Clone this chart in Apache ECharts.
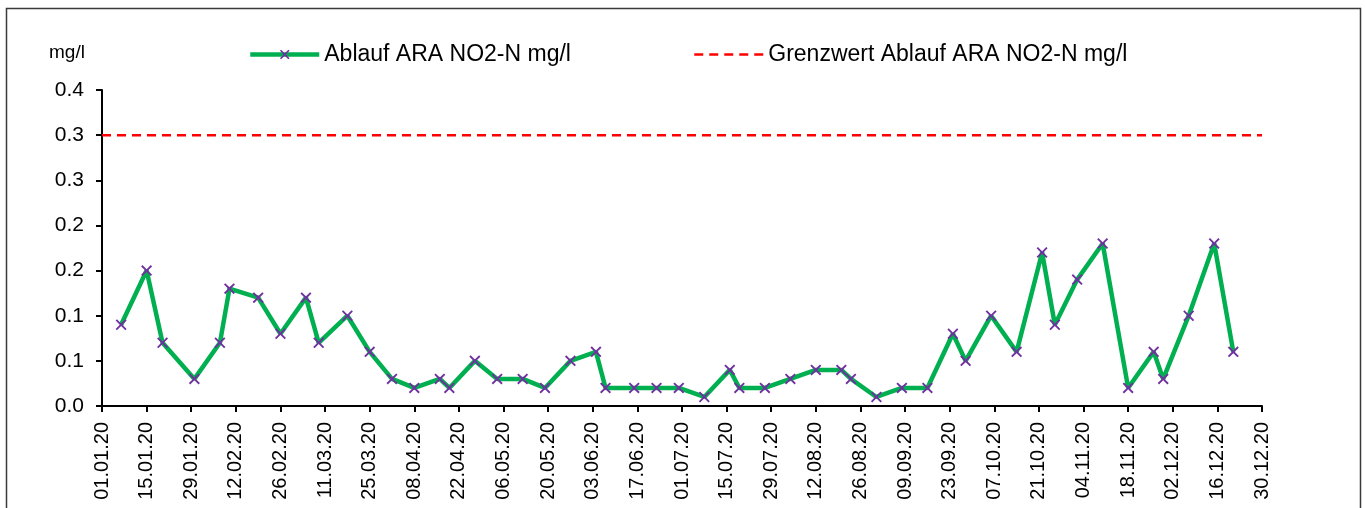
<!DOCTYPE html>
<html>
<head>
<meta charset="utf-8">
<script src="https://cdn.jsdelivr.net/npm/echarts@6/dist/echarts.min.js"></script>
<style>
html,body{margin:0;padding:0;background:#fff;}
#chart{width:1367px;height:508px;}
</style>
</head>
<body>
<div id="chart"></div>
<script>
// ---- data ----
var sampleDates = ['2020-01-07','2020-01-15','2020-01-20','2020-01-30','2020-02-07','2020-02-10','2020-02-19','2020-02-26','2020-03-05','2020-03-09','2020-03-18','2020-03-25','2020-04-01','2020-04-08','2020-04-16','2020-04-19','2020-04-27','2020-05-04','2020-05-12','2020-05-19','2020-05-27','2020-06-04','2020-06-07','2020-06-16','2020-06-23','2020-06-30','2020-07-08','2020-07-16','2020-07-19','2020-07-27','2020-08-04','2020-08-12','2020-08-20','2020-08-23','2020-08-31','2020-09-08','2020-09-16','2020-09-24','2020-09-28','2020-10-06','2020-10-14','2020-10-22','2020-10-26','2020-11-02','2020-11-10','2020-11-18','2020-11-26','2020-11-29','2020-12-07','2020-12-15','2020-12-21'];
var no2Values = [0.09,0.15,0.07,0.03,0.07,0.13,0.12,0.08,0.12,0.07,0.10,0.06,0.03,0.02,0.03,0.02,0.05,0.03,0.03,0.02,0.05,0.06,0.02,0.02,0.02,0.02,0.01,0.04,0.02,0.02,0.03,0.04,0.04,0.03,0.01,0.02,0.02,0.08,0.05,0.10,0.06,0.17,0.09,0.14,0.18,0.02,0.06,0.03,0.10,0.18,0.06];
var limitValue = 0.3;
var limitRange = ['2020-01-01','2020-12-30'];
var yTickLabels = ['0.0','0.1','0.1','0.2','0.2','0.3','0.3','0.4'];
var seriesNames = ['Ablauf ARA NO2-N mg/l','Grenzwert Ablauf ARA NO2-N mg/l'];
var unitLabel = 'mg/l';

var BASE = Date.UTC(2020,0,1);
function dayOf(s){var p=s.split('-');return (Date.UTC(+p[0],+p[1]-1,+p[2])-BASE)/86400000;}
function pad(n){return (n<10?'0':'')+n;}
function fmtDay(v){var d=new Date(BASE+Math.round(v)*86400000);return pad(d.getUTCDate())+'.'+pad(d.getUTCMonth()+1)+'.'+String(d.getUTCFullYear()).slice(2);}

var mainData = sampleDates.map(function(s,i){return [dayOf(s), no2Values[i]];});
var limitData = limitRange.map(function(s){return [dayOf(s), limitValue];});

var FONT = '"Liberation Sans", Arial, sans-serif';
var xMark = 'path://M0,1.2 L1.2,0 L5,3.8 L8.8,0 L10,1.2 L6.2,5 L10,8.8 L8.8,10 L5,6.2 L1.2,10 L0,8.8 L3.8,5 Z';

var chart = echarts.init(document.getElementById('chart'), null, {renderer:'canvas'});
chart.setOption({
  animation:false,
  backgroundColor:'#ffffff',
  grid:{left:102,right:105,top:90,bottom:102,containLabel:false},
  graphic:[
    {type:'rect',shape:{x:6.5,y:8.5,width:1354,height:520},style:{fill:'none',stroke:'#3a3a3a',lineWidth:1.5},silent:true,z:-10},
    {type:'text',left:49,top:43,style:{text:unitLabel,font:'19px '+FONT,fill:'#000'}}
  ],
  legend:[
    {data:[seriesNames[0]],left:243,top:38,itemWidth:69,itemHeight:12,padding:5,
     lineStyle:{color:'#00B050',width:4.5},
     itemStyle:{color:'#7030A0'},
     textStyle:{fontFamily:FONT,fontSize:23,color:'#000'}},
    {data:[seriesNames[1]],left:688,top:38,itemWidth:69,itemHeight:12,padding:5,
     lineStyle:{color:'#FF0000',width:2.5,type:[9,6]},
     itemStyle:{opacity:0},
     textStyle:{fontFamily:FONT,fontSize:23,color:'#000'}}
  ],
  xAxis:{
    type:'value',min:0,max:364,interval:14,
    axisLine:{show:true,onZero:false,lineStyle:{color:'#000',width:2}},
    axisTick:{show:true,length:6,lineStyle:{color:'#000',width:2}},
    splitLine:{show:false},
    axisLabel:{rotate:90,margin:16,fontFamily:FONT,fontSize:20,color:'#000',formatter:fmtDay,showMinLabel:true,showMaxLabel:true,hideOverlap:false}
  },
  yAxis:{
    type:'value',min:0,max:0.35,interval:0.05,
    axisLine:{show:true,lineStyle:{color:'#000',width:2}},
    axisTick:{show:true,length:6,lineStyle:{color:'#000',width:2}},
    splitLine:{show:false},
    axisLabel:{margin:18,fontFamily:FONT,fontSize:21,color:'#000',formatter:function(v){return yTickLabels[Math.round(v/0.05)];}}
  },
  series:[
    {name:seriesNames[0],type:'line',data:mainData,
     lineStyle:{color:'#00B050',width:4.5},
     symbol:xMark,symbolSize:11,showSymbol:true,
     itemStyle:{color:'#7030A0'},
     z:3},
    {name:seriesNames[1],type:'line',data:limitData,
     symbol:'none',
     lineStyle:{color:'#FF0000',width:2.5,type:[9,6]},
     itemStyle:{color:'#FF0000'},
     z:2}
  ]
});
</script>
</body>
</html>
